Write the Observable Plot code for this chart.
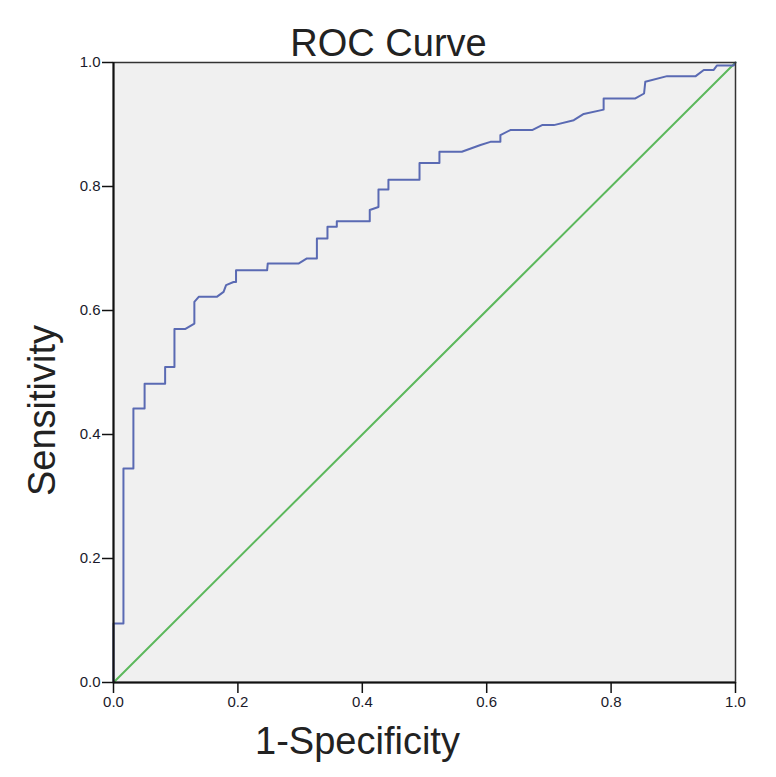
<!DOCTYPE html>
<html>
<head>
<meta charset="utf-8">
<script src="https://cdn.jsdelivr.net/npm/d3@7"></script>
<script src="https://cdn.jsdelivr.net/npm/@observablehq/plot@0.6"></script>
<style>
  html, body { margin: 0; padding: 0; background: white; }
  #chart svg { display: block; }
</style>
</head>
<body>
<div id="chart"></div>
<script>
// ROC curve vertices (1-Specificity, Sensitivity)
const fpr = [0, 0, 0.016, 0.016, 0.032, 0.032, 0.050, 0.050, 0.083, 0.083, 0.098, 0.098,
  0.115, 0.130, 0.130, 0.137, 0.166, 0.177, 0.181, 0.193, 0.197, 0.197, 0.247, 0.248,
  0.298, 0.311, 0.327, 0.327, 0.344, 0.344, 0.359, 0.359, 0.412, 0.412, 0.426, 0.426,
  0.442, 0.442, 0.492, 0.492, 0.524, 0.524, 0.560, 0.590, 0.606, 0.622, 0.622, 0.638,
  0.673, 0.689, 0.708, 0.740, 0.756, 0.788, 0.788, 0.839, 0.853, 0.855, 0.890, 0.936,
  0.949, 0.965, 0.970, 0.997, 1];
const tpr = [0, 0.095, 0.095, 0.345, 0.345, 0.442, 0.442, 0.482, 0.482, 0.509, 0.509, 0.570,
  0.570, 0.579, 0.614, 0.622, 0.622, 0.630, 0.641, 0.646, 0.646, 0.665, 0.665, 0.676,
  0.676, 0.684, 0.684, 0.716, 0.716, 0.735, 0.735, 0.744, 0.744, 0.762, 0.767, 0.795,
  0.795, 0.811, 0.811, 0.838, 0.838, 0.856, 0.856, 0.867, 0.872, 0.872, 0.883, 0.891,
  0.891, 0.899, 0.899, 0.907, 0.917, 0.924, 0.942, 0.942, 0.950, 0.969, 0.978, 0.978,
  0.988, 0.988, 0.995, 0.995, 1];
// Reference diagonal
const diagX = [0, 1];
const diagY = [0, 1];
// Tick values
const xTicks = [0, 0.2, 0.4, 0.6, 0.8, 1.0];
const yTicks = [0, 0.2, 0.4, 0.6, 0.8, 1.0];
const titleText = "ROC Curve";
const xLabel = "1-Specificity";
const yLabel = "Sensitivity";

const roc = fpr.map((f, i) => ({fpr: f, tpr: tpr[i]}));
const diag = diagX.map((d, i) => ({x: d, y: diagY[i]}));

const narrow = "'Liberation Sans Narrow','Liberation Sans',Arial,sans-serif";
const sans = "'Liberation Sans',Arial,sans-serif";

const chart = Plot.plot({
  width: 776,
  height: 777,
  marginTop: 62,
  marginLeft: 113,
  marginRight: 41,
  marginBottom: 95,
  x: {domain: [0, 1]},
  y: {domain: [0, 1]},
  style: {background: "white", fontFamily: narrow, color: "#222"},
  marks: [
    Plot.frame({fill: "#f0f0f0", stroke: null}),
    Plot.line(diag, {x: "x", y: "y", stroke: "#5cb85c", strokeWidth: 2}),
    Plot.line(roc, {x: "fpr", y: "tpr", stroke: "#5a6ab3", strokeWidth: 2}),
    Plot.frame({stroke: "#333", strokeWidth: 1.5}),
    Plot.ruleX([0], {stroke: "#111", strokeWidth: 2}),
    Plot.ruleY([0], {stroke: "#111", strokeWidth: 2}),
    Plot.axisX({ticks: xTicks, tickFormat: d => d.toFixed(1), tickSize: 11, tickPadding: 3,
      fontSize: 15, label: null, stroke: "#111", strokeWidth: 1.5, fill: "#1a1a2a"}),
    Plot.axisY({ticks: yTicks, tickFormat: d => d.toFixed(1), tickSize: 11, tickPadding: 2,
      fontSize: 15, label: null, stroke: "#111", strokeWidth: 1.5, fill: "#1a1a2a"}),
    Plot.text([titleText], {frameAnchor: "top", dx: -36, dy: -33, fontSize: 38, fontFamily: sans, fill: "#222"}),
    Plot.text([xLabel], {frameAnchor: "bottom", dx: -67, dy: 71, fontSize: 38, fontFamily: sans, fill: "#222"}),
    Plot.text([yLabel], {frameAnchor: "left", textAnchor: "middle", dx: -71, dy: 38, rotate: -90, fontSize: 38, fontFamily: sans, fill: "#222"})
  ]
});
document.getElementById("chart").appendChild(chart);
</script>
</body>
</html>
